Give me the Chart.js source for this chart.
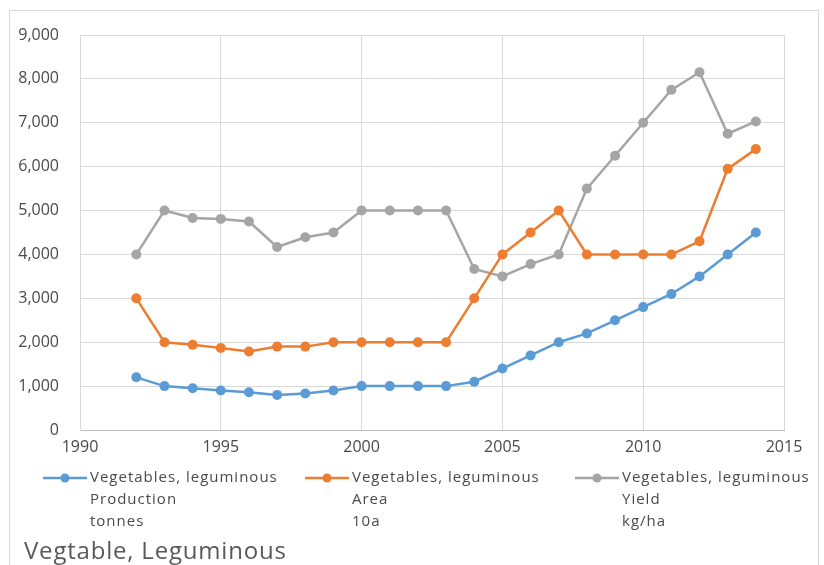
<!DOCTYPE html>
<html>
<head>
<meta charset="utf-8">
<script src="https://cdn.jsdelivr.net/npm/chart.js@4.4.1/dist/chart.umd.min.js"></script>
<style>
  html, body { margin: 0; padding: 0; background: #ffffff; }
  #wrap { width: 824px; height: 565px; position: relative; }
</style>
</head>
<body>
<div id="wrap"><canvas id="chart" width="824" height="565"></canvas></div>
<script>
// Years covered by the series
const years = [1992, 1993, 1994, 1995, 1996, 1997, 1998, 1999, 2000, 2001, 2002, 2003,
               2004, 2005, 2006, 2007, 2008, 2009, 2010, 2011, 2012, 2013, 2014];

// Production (tonnes)
const production = [1200, 1000, 950, 900, 860, 800, 830, 900, 1000, 1000, 1000, 1000,
                    1100, 1400, 1700, 2000, 2200, 2500, 2800, 3100, 3500, 4000, 4500];
// Area (10a)
const area = [3000, 2000, 1940, 1870, 1790, 1900, 1900, 2000, 2000, 2000, 2000, 2000,
              3000, 4000, 4500, 5000, 4000, 4000, 4000, 4000, 4300, 5950, 6400];
// Yield (kg/ha)
const yieldKgHa = [4000, 5000, 4830, 4810, 4750, 4170, 4390, 4500, 5000, 5000, 5000, 5000,
                   3670, 3500, 3780, 4000, 5500, 6250, 7000, 7750, 8150, 6750, 7030];

// Legend text lines per series
const productionLabel = ['Vegetables, leguminous', 'Production', 'tonnes'];
const areaLabel = ['Vegetables, leguminous', 'Area', '10a'];
const yieldLabel = ['Vegetables, leguminous', 'Yield', 'kg/ha'];

const chartTitle = 'Vegtable, Leguminous';

const FONT = '"Open Sans", Lato, sans-serif';
const TEXT = '#595959';
const GRID = '#D9D9D9';

const toPoints = vals => years.map((y, i) => ({ x: y, y: vals[i] }));

function series(lines, vals, color) {
  return {
    label: lines.join(' '),
    legendLines: lines,
    data: toPoints(vals),
    borderColor: color,
    backgroundColor: color,
    borderWidth: 2.5,
    pointRadius: 5,
    pointHoverRadius: 5,
    pointBorderWidth: 0,
    tension: 0
  };
}

// Legend under the axis, frame and bottom caption
const decor = {
  id: 'decor',
  afterDraw(chart) {
    const ctx = chart.ctx;
    ctx.save();
    // outer frame
    ctx.strokeStyle = GRID;
    ctx.lineWidth = 1;
    ctx.strokeRect(9.5, 10.5, 809, 600);

    // legend
    const slots = [43, 305, 575];
    const rowY = 478, lineGap = 22;
    chart.data.datasets.forEach((ds, i) => {
      const x0 = slots[i];
      ctx.strokeStyle = ds.borderColor;
      ctx.lineWidth = 2.5;
      ctx.beginPath();
      ctx.moveTo(x0, rowY);
      ctx.lineTo(x0 + 44, rowY);
      ctx.stroke();
      ctx.fillStyle = ds.borderColor;
      ctx.beginPath();
      ctx.arc(x0 + 22, rowY, 4.5, 0, Math.PI * 2);
      ctx.fill();
      ctx.fillStyle = '#4a4a4a';
      ctx.font = '15px ' + FONT;
      ctx.letterSpacing = '1px';
      ctx.textBaseline = 'middle';
      ctx.textAlign = 'left';
      ds.legendLines.forEach((t, k) => ctx.fillText(t, x0 + 47, rowY + k * lineGap));
    });

    // caption
    ctx.fillStyle = TEXT;
    ctx.font = '24px ' + FONT;
    ctx.letterSpacing = '0.8px';
    ctx.textBaseline = 'alphabetic';
    ctx.fillText(chartTitle, 24, 559);
    ctx.restore();
  }
};

new Chart(document.getElementById('chart'), {
  type: 'line',
  data: {
    datasets: [
      series(productionLabel, production, '#5B9BD5'),
      series(areaLabel, area, '#ED7D31'),
      series(yieldLabel, yieldKgHa, '#A5A5A5')
    ]
  },
  options: {
    responsive: false,
    animation: false,
    layout: { padding: { left: 0, top: 35, right: 40, bottom: 0 } },
    plugins: {
      legend: { display: false },
      title: { display: false },
      tooltip: { enabled: false }
    },
    scales: {
      x: {
        type: 'linear',
        min: 1990,
        max: 2015,
        ticks: { stepSize: 5, color: '#4a4a4a', font: { family: FONT, size: 16 }, padding: 8,
                 callback: v => String(v) },
        grid: { color: GRID, drawTicks: false },
        border: { color: '#BFBFBF' },
        afterFit(scale) { scale.height = 135; }
      },
      y: {
        min: 0,
        max: 9000,
        ticks: { stepSize: 1000, color: '#4a4a4a', font: { family: FONT, size: 16 }, padding: 21,
                 callback: v => v.toLocaleString('en-US') },
        grid: { color: GRID, drawTicks: false },
        border: { color: GRID },
        afterFit(scale) { scale.width = 80; }
      }
    }
  },
  plugins: [decor]
});
</script>
</body>
</html>
